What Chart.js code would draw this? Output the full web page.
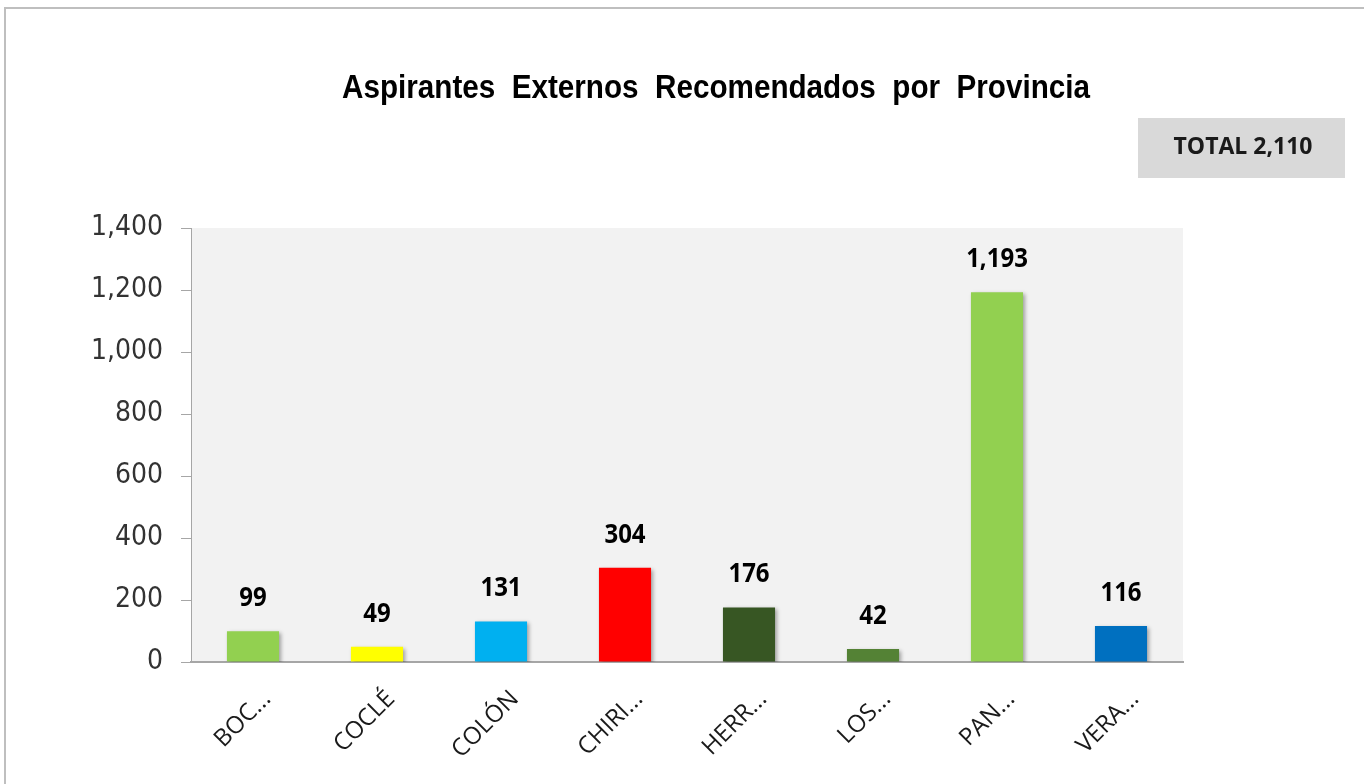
<!DOCTYPE html>
<html>
<head>
<meta charset="utf-8">
<script src="https://cdn.jsdelivr.net/npm/chart.js@4/dist/chart.umd.min.js"></script>
<style>
  html, body { margin: 0; padding: 0; background: #fff; overflow: hidden; }
  #frame {
    position: absolute; left: 4px; top: 7px; width: 1400px; height: 800px;
    border: 2px solid #bfbfbf; box-sizing: border-box;
  }
  #wrap { position: absolute; left: 0; top: 0; width: 1364px; height: 784px; }
</style>
</head>
<body>
<div id="frame"></div>
<div id="wrap"><canvas id="provChart"></canvas></div>
<script>
const titleText = 'Aspirantes  Externos  Recomendados  por  Provincia';
const categories = ['BOC...', 'COCLÉ', 'COLÓN', 'CHIRI...', 'HERR...', 'LOS...', 'PAN...', 'VERA...'];
const values = [99, 49, 131, 304, 176, 42, 1193, 116];
const barColors = ['#92d050', '#ffff00', '#00b0f0', '#ff0000', '#375623', '#548235', '#92d050', '#0070c0'];
const yTicks = [0, 200, 400, 600, 800, 1000, 1200, 1400];

const fmt = v => v.toLocaleString('en-US');
const total = values.reduce((a, b) => a + b, 0);

// text drawn with a horizontal / vertical stretch
function stretchText(ctx, text, x, y, font, sx, sy) {
  ctx.save();
  ctx.font = font;
  ctx.translate(x, y);
  ctx.scale(sx, sy);
  ctx.fillText(text, 0, 0);
  ctx.restore();
}

const decorPlugin = {
  id: 'decor',
  beforeDraw(chart) {
    const { ctx, chartArea } = chart;
    ctx.save();
    ctx.fillStyle = '#f2f2f2';
    ctx.fillRect(chartArea.left, chartArea.top, chartArea.right - chartArea.left, chartArea.bottom - chartArea.top);
    ctx.restore();
  },
  beforeDatasetsDraw(chart) {
    const ctx = chart.ctx;
    ctx.save();
    ctx.shadowColor = 'rgba(0,0,0,0.35)';
    ctx.shadowBlur = 4;
    ctx.shadowOffsetX = 2;
    ctx.shadowOffsetY = 2;
  },
  afterDatasetsDraw(chart) {
    const ctx = chart.ctx;
    ctx.restore();
    // value labels above the bars
    ctx.save();
    ctx.fillStyle = '#000';
    ctx.textAlign = 'center';
    ctx.textBaseline = 'middle';
    chart.getDatasetMeta(0).data.forEach((bar, i) => {
      stretchText(ctx, fmt(values[i]), bar.x, bar.y - 33, "bold 24px 'Open Sans', sans-serif", 1, 1.15);
    });
    ctx.restore();
  },
  afterDraw(chart) {
    const ctx = chart.ctx;
    ctx.save();
    ctx.fillStyle = '#000';
    ctx.textAlign = 'center';
    ctx.textBaseline = 'middle';

    // title squeezed to a narrow face
    const titleFont = "bold 33px 'Liberation Sans', Arial, sans-serif";
    ctx.font = titleFont;
    const sx = 748 / ctx.measureText(titleText).width;
    stretchText(ctx, titleText, 716, 89, titleFont, sx, 1);

    ctx.fillStyle = '#d9d9d9';
    ctx.fillRect(1138, 118, 207, 60);
    ctx.fillStyle = '#1a1a1a';
    ctx.font = "bold 23px 'Open Sans', sans-serif";
    ctx.fillText('TOTAL ' + fmt(total), 1243, 147);
    ctx.restore();
  }
};

const ctx = document.getElementById('provChart').getContext('2d');
new Chart(ctx, {
  type: 'bar',
  data: {
    labels: categories,
    datasets: [{
      data: values,
      backgroundColor: barColors,
      borderWidth: 0,
      barPercentage: 0.42,
      categoryPercentage: 1
    }]
  },
  options: {
    responsive: true,
    maintainAspectRatio: false,
    animation: false,
    layout: {
      padding: { left: 0, top: 228, right: 181, bottom: 0 }
    },
    plugins: {
      legend: { display: false },
      tooltip: { enabled: false }
    },
    scales: {
      y: {
        min: 0,
        max: 1400,
        afterBuildTicks: scale => {
          scale.ticks = yTicks.map(v => ({ value: v }));
        },
        afterFit: scale => { scale.width = 191; },
        ticks: {
          color: '#333333',
          font: { family: "'DejaVu Sans Condensed', sans-serif", size: 28 },
          padding: 18,
          callback: v => fmt(v)
        },
        grid: {
          drawOnChartArea: false,
          tickLength: 10,
          color: '#a6a6a6'
        },
        border: { color: '#a6a6a6', width: 1 }
      },
      x: {
        afterFit: scale => { scale.height = 122; },
        ticks: {
          color: '#1a1a1a',
          font: { family: "'Open Sans', sans-serif", size: 24 },
          minRotation: 45,
          maxRotation: 45,
          autoSkip: false,
          padding: 15,
          labelOffset: 14
        },
        grid: { display: false },
        border: { color: '#a6a6a6', width: 2 }
      }
    }
  },
  plugins: [decorPlugin]
});
</script>
</body>
</html>
